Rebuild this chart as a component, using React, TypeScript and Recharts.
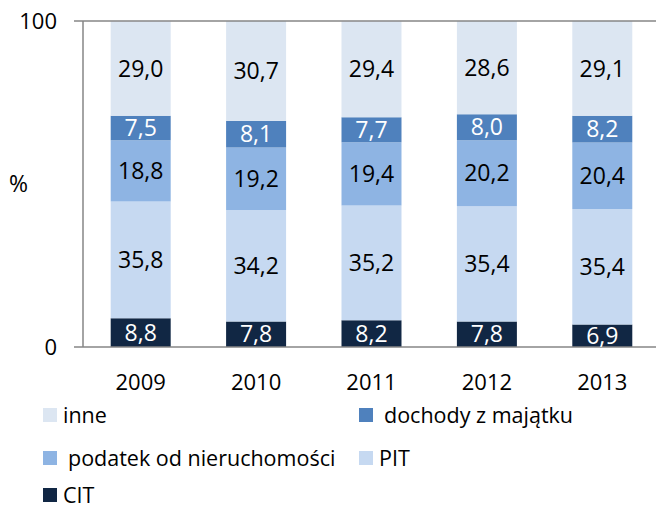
import React from "react";
import {
  Bar,
  BarChart,
  LabelList,
  ReferenceLine,
  XAxis,
  YAxis,
} from "recharts";

const years = ["2009", "2010", "2011", "2012", "2013"];
const cit = [8.8, 7.8, 8.2, 7.8, 6.9];
const pit = [35.8, 34.2, 35.2, 35.4, 35.4];
const podatek = [18.8, 19.2, 19.4, 20.2, 20.4];
const dochody = [7.5, 8.1, 7.7, 8.0, 8.2];
const inne = [29.0, 30.7, 29.4, 28.6, 29.1];
const yTicks = [0, 100];

const FONT = "'Open Sans', sans-serif";
const AXIS = "#868686";

const series = [
  { key: "cit", name: "CIT", color: "#112744", text: "#ffffff" },
  { key: "pit", name: "PIT", color: "#c6d9f1", text: "#000000" },
  { key: "podatek", name: "podatek od nieruchomości", color: "#8eb4e3", text: "#000000" },
  { key: "dochody", name: "dochody z majątku", color: "#4f81bd", text: "#ffffff" },
  { key: "inne", name: "inne", color: "#dce6f2", text: "#000000" },
];

const data = years.map((year, i) => ({
  year,
  cit: cit[i],
  pit: pit[i],
  podatek: podatek[i],
  dochody: dochody[i],
  inne: inne[i],
}));

// legend order as in the picture: two columns, row by row
const legendItems = [
  { name: "inne", color: "#dce6f2", x: 43, y: 408, gap: 6 },
  { name: "dochody z majątku", color: "#4f81bd", x: 359, y: 408, gap: 11 },
  { name: "podatek od nieruchomości", color: "#8eb4e3", x: 43, y: 451, gap: 11 },
  { name: "PIT", color: "#c6d9f1", x: 359, y: 451, gap: 6 },
  { name: "CIT", color: "#112744", x: 43, y: 488, gap: 6 },
];

const fmt = (v: unknown) => Number(v).toFixed(1).replace(".", ",");

export default function App() {
  return (
    <div
      style={{
        position: "absolute",
        left: 0,
        top: 0,
        width: 656,
        height: 508,
        overflow: "hidden",
        background: "#fff",
        fontFamily: FONT,
      }}
    >
      <BarChart
        width={660}
        height={508}
        data={data}
        barCategoryGap="24%"
        margin={{ top: 21, right: 0, left: 0, bottom: 121 }}
      >
        <XAxis
          xAxisId="edges"
          type="number"
          domain={[0, 5]}
          ticks={[0, 1, 2, 3, 4, 5]}
          tick={false}
          axisLine={false}
          tickLine={{ stroke: AXIS, strokeWidth: 1.5 }}
          tickSize={7}
          height={0}
          allowDataOverflow
        />
        <XAxis
          dataKey="year"
          axisLine={{ stroke: AXIS, strokeWidth: 1.5 }}
          tickLine={false}
          tickMargin={21}
          height={40}
          tick={{ fill: "#000", fontSize: 22, fontFamily: FONT }}
        />
        <YAxis
          domain={[0, 100]}
          ticks={yTicks}
          width={83}
          axisLine={{ stroke: AXIS, strokeWidth: 1.5 }}
          tickLine={{ stroke: AXIS, strokeWidth: 1.5 }}
          tickSize={9}
          tickMargin={17}
          tick={{ fill: "#000", fontSize: 22, fontFamily: FONT }}
          label={{
            value: "%",
            position: "insideLeft",
            offset: 9,
            fill: "#000",
            fontSize: 23,
            fontFamily: FONT,
          }}
        />
        <ReferenceLine y={100} stroke={AXIS} strokeWidth={1.5} />
        {series.map((s) => (
          <Bar
            key={s.key}
            dataKey={s.key}
            name={s.name}
            stackId="a"
            fill={s.color}
            isAnimationActive={false}
          >
            <LabelList
              dataKey={s.key}
              position="center"
              formatter={fmt}
              fill={s.text}
              fontSize={23}
              fontFamily={FONT}
            />
          </Bar>
        ))}
      </BarChart>
      {legendItems.map((item) => (
        <div
          key={item.name}
          style={{
            position: "absolute",
            left: item.x,
            top: item.y,
            display: "flex",
            alignItems: "center",
            height: 14,
            lineHeight: "14px",
            fontSize: 21.5,
            color: "#000",
            whiteSpace: "nowrap",
          }}
        >
          <span
            style={{
              display: "inline-block",
              width: 14,
              height: 14,
              background: item.color,
              marginRight: item.gap,
            }}
          />
          <span>{item.name}</span>
        </div>
      ))}
    </div>
  );
}
